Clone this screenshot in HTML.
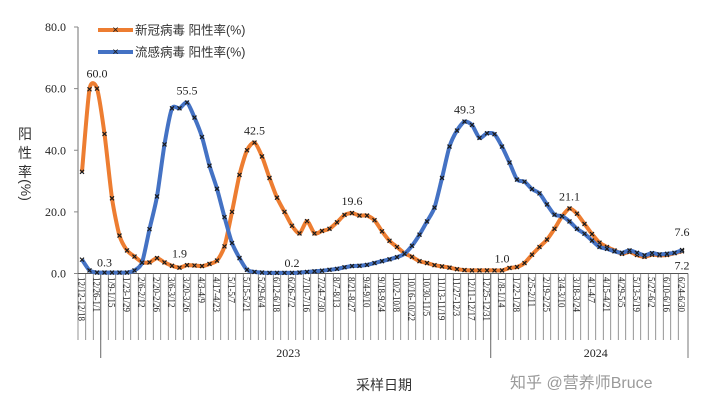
<!DOCTYPE html>
<html><head><meta charset="utf-8">
<style>
html,body{margin:0;padding:0;background:#fff;}
svg{display:block;}
.num{font-family:"Liberation Serif",serif;font-size:12px;fill:#222;}
.cat{font-family:"Liberation Serif",serif;font-size:9px;fill:#222;}
.cjk{font-family:"Liberation Sans","Noto Sans CJK SC",sans-serif;}
</style></head>
<body>
<svg id="chart" width="720" height="412" viewBox="0 0 720 412" xmlns="http://www.w3.org/2000/svg">
<g id="grid"></g>
<g id="series"></g>
<g id="labels"></g>
<g>
 <g>
  <line x1="98" y1="30" x2="133" y2="30" stroke="#ED7D31" stroke-width="4"/>
  <text x="115.5" y="33.5" text-anchor="middle" font-size="9" font-weight="bold" fill="#111" class="num">×</text>
  <text x="135" y="34.5" font-size="12.5" fill="#333" class="cjk">新冠病毒 阳性率(%)</text>
 </g>
 <g>
  <line x1="98" y1="52" x2="133" y2="52" stroke="#4472C4" stroke-width="4"/>
  <text x="115.5" y="55.5" text-anchor="middle" font-size="9" font-weight="bold" fill="#111" class="num">×</text>
  <text x="135" y="56.5" font-size="12.5" fill="#333" class="cjk">流感病毒 阳性率(%)</text>
 </g>
</g>
<g class="cjk" font-size="14" fill="#333">
 <text x="25" y="139" text-anchor="middle">阳</text>
 <text x="25" y="158" text-anchor="middle">性</text>
 <text x="25" y="177" text-anchor="middle">率</text>
 <text x="0" y="0" text-anchor="middle" transform="translate(21,190) rotate(90)">(%)</text>
</g>
<text x="384" y="390" text-anchor="middle" font-size="14" fill="#333" class="cjk">采样日期</text>
<text x="510" y="388" font-size="16" fill="#9a9a9a" class="cjk">知乎 @营养师Bruce</text>
</svg>
<script>
const yTicks=[0,20,40,60,80];
const categoryLabels=["12/12-12/18","12/26-1/1","1/9-1/15","1/23-1/29","2/6-2/12","2/20-2/26","3/6-3/12","3/20-3/26","4/3-4/9","4/17-4/23","5/1-5/7","5/15-5/21","5/29-6/4","6/12-6/18","6/26-7/2","7/10-7/16","7/24-7/30","8/7-8/13","8/21-8/27","9/4-9/10","9/18-9/24","10/2-10/8","10/16-10/22","10/30-11/5","11/13-11/19","11/27-12/3","12/11-12/17","12/25-12/31","1/8-1/14","1/22-1/28","2/5-2/11","2/19-2/25","3/4-3/10","3/18-3/24","4/1-4/7","4/15-4/21","4/29-5/5","5/13-5/19","5/27-6/2","6/10-6/16","6/24-6/30"];
const covid=[33,59.8,60,45.3,24.4,12.3,7.5,5.5,3.7,3.6,5,3.6,2.5,1.9,2.7,2.6,2.4,3.1,4.2,8.8,20,32,40,42.5,38,31,24.6,20,15.5,13,17,13,13.8,14.5,16.6,19,19.6,18.8,18.8,17.3,13.7,10.6,8.6,6.6,5.4,4,3.4,2.7,2.3,1.9,1.4,1.1,1,1,1,1,1,1.8,2.1,3.4,6.1,8.6,11,14.5,18.5,21.1,19.4,16.1,12.8,10,8.6,7.5,6.4,7,6,5.4,6.1,5.9,6,6.6,7.2];
const flu=[4.5,1,0.3,0.3,0.3,0.3,0.3,1,3.5,14.4,25,41.9,53.6,53.6,55.5,50.6,44.3,35,27.5,18.3,9.9,5,1.2,0.5,0.3,0.2,0.2,0.2,0.2,0.3,0.5,0.7,0.9,1.2,1.5,2,2.4,2.5,2.8,3.4,4,4.6,5.3,6.4,9,12.6,16.9,21.4,31,41.2,46.4,49.3,48.2,44,45.5,45.2,41.2,36,30.5,29.8,27.4,26,22.4,19.1,18.6,16.9,14.5,12.9,10.7,8.6,8,7.2,6.7,7.5,6.7,5.9,6.6,6.2,6.4,6.7,7.6];
const covidNotes=[[2,"60.0",0,-11],[13,"1.9",0,-10],[23,"42.5",0,-8],[36,"19.6",0,-8],[56,"1.0",0,-8],[65,"21.1",0,-8],[80,"7.2",0,18]];
const fluNotes=[[3,"0.3",0,-6],[14,"55.5",0,-8],[28,"0.2",0,-6],[51,"49.3",0,-8],[80,"7.6",0,-14]];
const yearLabels=[["2023",27.5],["2024",68.5]];
const yearBreaks=[2.5,54.5];

const NS="http://www.w3.org/2000/svg";
const X0=82,DX=7.5,Y0=273.5,YS=246.5/80,AX=78;
const xs=i=>X0+i*DX, ys=v=>Y0-v*YS;
function mk(tag,attrs,parent){const e=document.createElementNS(NS,tag);for(const k in attrs)e.setAttribute(k,attrs[k]);parent.appendChild(e);return e;}
const grid=document.getElementById('grid'),ser=document.getElementById('series'),lab=document.getElementById('labels');
const ya=mk('line',{x1:AX,y1:ys(80),x2:AX,y2:Y0,stroke:'#888','stroke-width':1.2},grid);


const xa=mk('line',{x1:AX,y1:Y0,x2:688,y2:Y0,stroke:'#555','stroke-width':1},grid);


yTicks.forEach(t=>{
 mk('line',{x1:AX-4,y1:ys(t),x2:AX,y2:ys(t),stroke:'#888'},grid);
 const tx=mk('text',{x:AX-12,y:ys(t)+4,'text-anchor':'end',class:'num'},grid);
 tx.textContent=t.toFixed(1);
 
 
});
for(let i=0;i<covid.length-1;i++){
 const xx=xs(i+0.5);
 mk('line',{x1:xx,y1:Y0,x2:xx,y2:340,stroke:'#666','stroke-width':0.7},grid);
}
mk('line',{x1:AX,y1:Y0,x2:AX,y2:340,stroke:'#666','stroke-width':0.7},grid);
yearBreaks.forEach(b=>{mk('line',{x1:xs(b),y1:Y0,x2:xs(b),y2:358,stroke:'#555','stroke-width':0.9},grid);});
mk('line',{x1:688,y1:Y0,x2:688,y2:358,stroke:'#555','stroke-width':0.8},grid);
categoryLabels.forEach((c,k)=>{
 const tx=mk('text',{x:0,y:0,class:'cat',transform:`translate(${xs(2*k)-3.5},277) rotate(90)`},lab);
 tx.textContent=c;
 
 
});
yearLabels.forEach(([t,i])=>{
 const tx=mk('text',{x:xs(i),y:357,'text-anchor':'middle',class:'num'},lab);
 tx.textContent=t;
 
 
});
function smooth(vals){
 const p=vals.map((v,i)=>[xs(i),ys(v)]);
 let d=`M${p[0][0]},${p[0][1]}`;
 for(let i=0;i<p.length-1;i++){
  const p0=p[i-1]||p[i],p1=p[i],p2=p[i+1],p3=p[i+2]||p2;
  const t=0.12;
  d+=` C${p1[0]+(p2[0]-p0[0])*t},${p1[1]+(p2[1]-p0[1])*t} ${p2[0]-(p3[0]-p1[0])*t},${p2[1]-(p3[1]-p1[1])*t} ${p2[0]},${p2[1]}`;
 }
 return d;
}
function draw(vals,color,name,notes){
 const g=mk('g',{},ser);
 
 
 const pth=mk('path',{d:smooth(vals),fill:'none',stroke:color,'stroke-width':4,'stroke-linejoin':'round'},g);
 
 
 vals.forEach((v,i)=>{
  const x=xs(i),y=ys(v),s=2;
  const m=mk('path',{d:`M${x-s},${y-s}L${x+s},${y+s}M${x-s},${y+s}L${x+s},${y-s}`,stroke:'#1a1a1a','stroke-width':1.2},g);
  
  
 });
 notes.forEach(([i,t,dx,dy])=>{
  const tx=mk('text',{x:xs(i)+dx,y:ys(vals[i])+dy,'text-anchor':'middle',class:'num'},lab);
  tx.textContent=t;
  
  
 });
}
draw(covid,'#ED7D31','covid',covidNotes);
draw(flu,'#4472C4','flu',fluNotes);
</script>
</body></html>
